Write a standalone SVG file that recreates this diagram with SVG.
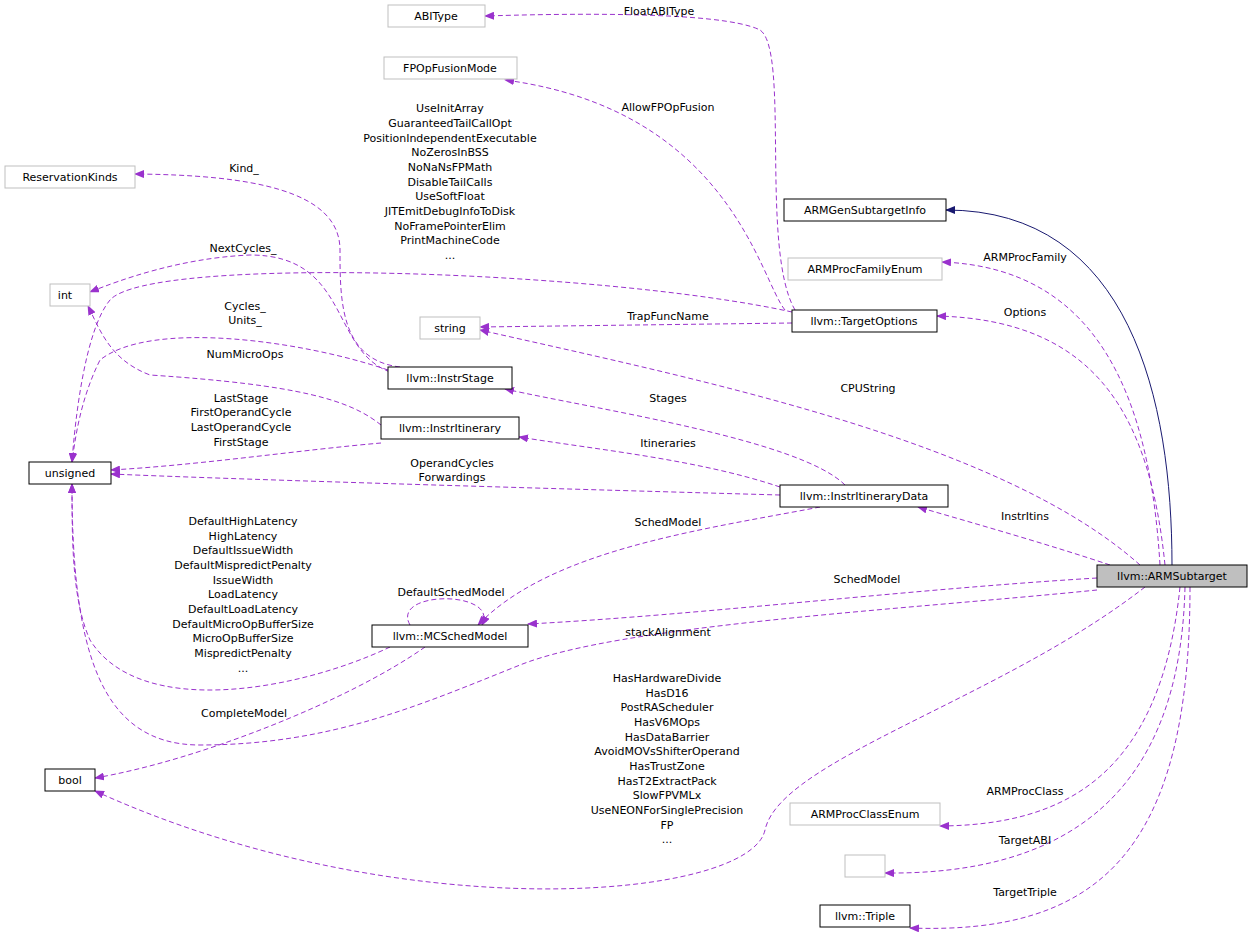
<svg xmlns="http://www.w3.org/2000/svg" width="1253" height="937" viewBox="0 0 1253 937">
<style>
text{font-family:"DejaVu Sans",sans-serif;font-size:11px;text-anchor:middle;fill:#000}
.n{fill:#fff;stroke:#000;stroke-width:1}
.g{fill:#fff;stroke:#bfbfbf;stroke-width:1}
.e{fill:none;stroke:#9a32cd;stroke-dasharray:5,3;marker-end:url(#a)}
</style>
<defs>
<marker id="a" markerWidth="10" markerHeight="8" refX="9" refY="4" orient="auto" markerUnits="userSpaceOnUse"><path d="M0,0L10,4L0,8z" fill="#9a32cd"/></marker>
<marker id="b" markerWidth="10" markerHeight="8" refX="9" refY="4" orient="auto" markerUnits="userSpaceOnUse"><path d="M0,0L10,4L0,8z" fill="#191970"/></marker>
</defs>
<rect width="1253" height="937" fill="#fff"/>
<g id="connectors">
<path d="M1172,565C1172,400 1130,210 946,210" fill="none" stroke="#191970" marker-end="url(#b)"/>
<path class="e" d="M1160,565C1150,400 1100,268 942,262"/>
<path class="e" d="M1165,565C1150,420 1100,320 937,316"/>
<path class="e" d="M1140,565C1000,440 700,380 480,330"/>
<path class="e" d="M1110,565C1050,545 980,525 918,507"/>
<path class="e" d="M1097,578C900,590 700,615 528,624"/>
<path class="e" d="M1097,590C900,610 620,625 520,665C420,705 330,745 200,745C100,745 72,650 72,484"/>
<path class="e" d="M1145,587C1000,700 780,760 765,830C750,900 400,930 95,791"/>
<path class="e" d="M1180,587C1160,780 1060,825 940,826"/>
<path class="e" d="M1185,587C1180,800 1060,875 885,873"/>
<path class="e" d="M1190,587C1190,850 1100,935 910,928"/>
<path class="e" d="M845,485C800,440 600,410 505,389"/>
<path class="e" d="M780,487C700,460 600,450 519,437"/>
<path class="e" d="M780,495C600,490 250,480 111,474"/>
<path class="e" d="M820,507C700,530 550,550 478,625"/>
<path class="e" d="M410,625C390,590 500,590 482,625"/>
<path class="e" d="M390,647C300,690 140,720 90,640C72,600 72,540 72,484"/>
<path class="e" d="M425,647C350,700 200,760 95,778"/>
<path class="e" d="M381,443C300,450 200,465 111,470"/>
<path class="e" d="M381,425C350,400 300,385 150,375C110,360 100,330 88,306"/>
<path class="e" d="M388,370C300,340 150,320 100,360C80,400 75,440 72,462"/>
<path class="e" d="M400,367C340,360 340,300 340,250C340,190 250,175 135,174"/>
<path class="e" d="M390,372C330,350 350,255 250,255C180,258 120,280 90,292"/>
<path class="e" d="M792,312C600,270 150,255 110,300C85,330 75,420 72,462"/>
<path class="e" d="M792,323L480,327"/>
<path class="e" d="M785,310C760,280 730,110 505,80"/>
<path class="e" d="M795,310C760,250 790,50 760,30C720,10 550,14 485,16"/>
</g>
<g id="ABIType"><rect class="g" x="388" y="5" width="97" height="22"/><text x="436" y="20">ABIType</text></g>
<g id="FPOpFusionMode"><rect class="g" x="384" y="57" width="133" height="22"/><text x="450" y="72">FPOpFusionMode</text></g>
<g id="ReservationKinds"><rect class="g" x="5" y="166" width="130" height="22"/><text x="70" y="181">ReservationKinds</text></g>
<g id="ARMGenSubtargetInfo"><rect class="n" x="784" y="199" width="162" height="22"/><text x="865" y="214">ARMGenSubtargetInfo</text></g>
<g id="ARMProcFamilyEnum"><rect class="g" x="788" y="258" width="154" height="22"/><text x="865" y="273">ARMProcFamilyEnum</text></g>
<g id="int"><rect class="g" x="50" y="284" width="40" height="22"/><text x="65" y="299">int</text></g>
<g id="string"><rect class="g" x="420" y="317" width="60" height="22"/><text x="450" y="332">string</text></g>
<g id="TargetOptions"><rect class="n" x="792" y="310" width="145" height="22"/><text x="864" y="325">llvm::TargetOptions</text></g>
<g id="InstrStage"><rect class="n" x="388" y="367" width="124" height="22"/><text x="450" y="382">llvm::InstrStage</text></g>
<g id="InstrItinerary"><rect class="n" x="381" y="417" width="138" height="22"/><text x="450" y="432">llvm::InstrItinerary</text></g>
<g id="unsigned"><rect class="n" x="29" y="462" width="82" height="22"/><text x="70" y="477">unsigned</text></g>
<g id="InstrItineraryData"><rect class="n" x="780" y="485" width="168" height="22"/><text x="864" y="500">llvm::InstrItineraryData</text></g>
<g id="ARMSubtarget"><rect x="1097" y="565" width="150" height="22" fill="#bfbfbf" stroke="#000"/><text x="1172" y="580">llvm::ARMSubtarget</text></g>
<g id="MCSchedModel"><rect class="n" x="372" y="625" width="156" height="22"/><text x="450" y="640">llvm::MCSchedModel</text></g>
<g id="bool"><rect class="n" x="45" y="769" width="50" height="22"/><text x="70" y="784">bool</text></g>
<g id="ARMProcClassEnum"><rect class="g" x="790" y="803" width="150" height="22"/><text x="865" y="818">ARMProcClassEnum</text></g>
<g id="empty"><rect class="g" x="845" y="855" width="40" height="22"/></g>
<g id="Triple"><rect class="n" x="820" y="905" width="90" height="22"/><text x="865" y="920">llvm::Triple</text></g>
<g id="labels">
<text x="659" y="15">FloatABIType</text>
<text x="668" y="111">AllowFPOpFusion</text>
<text x="450" y="112">UseInitArray</text><text x="450" y="127">GuaranteedTailCallOpt</text><text x="450" y="142">PositionIndependentExecutable</text><text x="450" y="156">NoZerosInBSS</text><text x="450" y="171">NoNaNsFPMath</text><text x="450" y="186">DisableTailCalls</text><text x="450" y="200">UseSoftFloat</text><text x="450" y="215">JITEmitDebugInfoToDisk</text><text x="450" y="230">NoFramePointerElim</text><text x="450" y="244">PrintMachineCode</text><text x="450" y="259">...</text>
<text x="244" y="172">Kind_</text>
<text x="243" y="252">NextCycles_</text>
<text x="245" y="310">Cycles_</text><text x="245" y="324">Units_</text>
<text x="245" y="358">NumMicroOps</text>
<text x="241" y="402">LastStage</text><text x="241" y="416">FirstOperandCycle</text><text x="241" y="431">LastOperandCycle</text><text x="241" y="446">FirstStage</text>
<text x="452" y="467">OperandCycles</text><text x="452" y="481">Forwardings</text>
<text x="668" y="320">TrapFuncName</text>
<text x="868" y="392">CPUString</text>
<text x="668" y="402">Stages</text>
<text x="668" y="447">Itineraries</text>
<text x="668" y="526">SchedModel</text>
<text x="1025" y="520">InstrItins</text>
<text x="867" y="583">SchedModel</text>
<text x="668" y="636">stackAlignment</text>
<text x="451" y="596">DefaultSchedModel</text>
<text x="243" y="525">DefaultHighLatency</text><text x="243" y="540">HighLatency</text><text x="243" y="554">DefaultIssueWidth</text><text x="243" y="569">DefaultMispredictPenalty</text><text x="243" y="584">IssueWidth</text><text x="243" y="598">LoadLatency</text><text x="243" y="613">DefaultLoadLatency</text><text x="243" y="628">DefaultMicroOpBufferSize</text><text x="243" y="642">MicroOpBufferSize</text><text x="243" y="657">MispredictPenalty</text><text x="243" y="672">...</text>
<text x="244" y="717">CompleteModel</text>
<text x="667" y="682">HasHardwareDivide</text><text x="667" y="697">HasD16</text><text x="667" y="711">PostRAScheduler</text><text x="667" y="726">HasV6MOps</text><text x="667" y="741">HasDataBarrier</text><text x="667" y="755">AvoidMOVsShifterOperand</text><text x="667" y="770">HasTrustZone</text><text x="667" y="785">HasT2ExtractPack</text><text x="667" y="799">SlowFPVMLx</text><text x="667" y="814">UseNEONForSinglePrecision</text><text x="667" y="829">FP</text><text x="667" y="843">...</text>
<text x="1025" y="261">ARMProcFamily</text>
<text x="1025" y="316">Options</text>
<text x="1025" y="795">ARMProcClass</text>
<text x="1025" y="844">TargetABI</text>
<text x="1025" y="896">TargetTriple</text>
</g>
</svg>
